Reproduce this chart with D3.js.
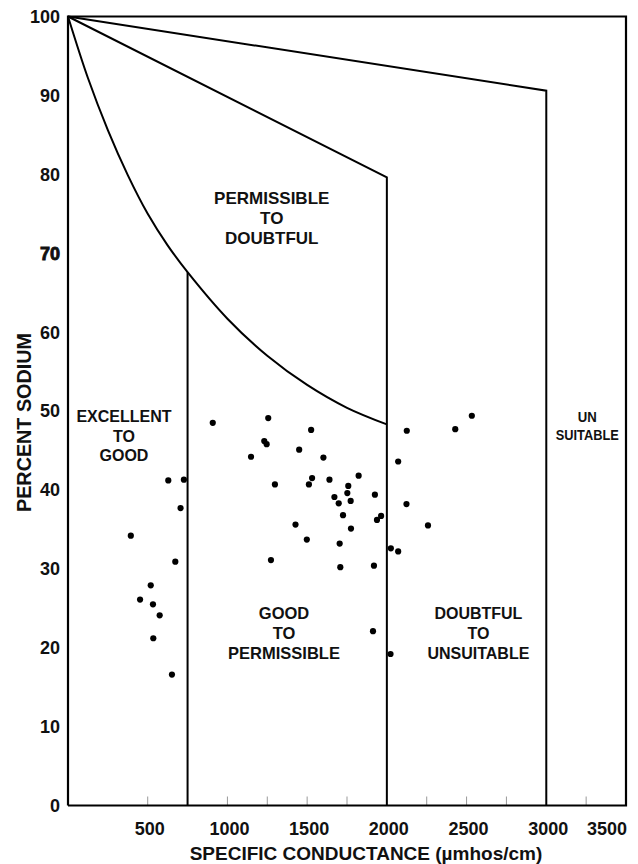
<!DOCTYPE html>
<html>
<head>
<meta charset="utf-8">
<script src="https://cdnjs.cloudflare.com/ajax/libs/d3/7.8.5/d3.min.js"></script>
<style>
  body { margin: 0; background: #fff; }
  text { font-family: 'Liberation Sans', Arial, sans-serif; font-weight: bold; fill: #111; }
</style>
</head>
<body>
<svg id="chart"></svg>
<script>
var width = 638;
var height = 864;
var margin = {top: 16.5, right: 12, bottom: 58.5, left: 68};

// sample points: specific conductance (umhos/cm) and percent sodium
var conductance = [394, 452, 519, 533, 535, 575, 629, 652, 673, 706, 727,
  908, 1148, 1231, 1246, 1256, 1273, 1298, 1427, 1450, 1498, 1511, 1525, 1531,
  1602, 1640, 1671, 1698, 1704, 1708, 1725, 1752, 1758, 1773, 1775, 1823,
  1913, 1919, 1925, 1938, 1964,
  2023, 2025, 2071, 2071, 2123, 2125, 2258, 2429, 2533];
var sodium = [34.2, 26.1, 27.9, 25.5, 21.2, 24.1, 41.2, 16.6, 30.9, 37.7, 41.3,
  48.5, 44.2, 46.2, 45.8, 49.1, 31.1, 40.7, 35.6, 45.1, 33.7, 40.7, 47.6, 41.5,
  44.1, 41.3, 39.1, 38.3, 33.2, 30.2, 36.8, 39.6, 40.5, 38.6, 35.1, 41.8,
  22.1, 30.4, 39.4, 36.2, 36.7,
  19.2, 32.6, 32.2, 43.6, 38.2, 47.5, 35.5, 47.7, 49.4];

// class boundaries
var curveX = [0, 125, 250, 375, 500, 625, 750, 1000, 1250, 1500, 1750, 2000];
var curveY = [100, 92.2, 85.6, 79.9, 75.0, 71.0, 67.6, 61.7, 57.0, 53.3, 50.4, 48.3];
var midX = [0, 2000, 2000];
var midY = [100, 79.6, 0];
var topX = [0, 3000, 3000];
var topY = [100, 90.6, 0];
var splitX = [750, 750];
var splitY = [67.6, 0];

var xTickValues = [500, 1000, 1500, 2000, 2500, 3000, 3500];
var xMinorTicks = [500, 1000, 1250, 1500, 1750, 2250, 2500, 2750, 3250];
var yTickValues = [0, 10, 20, 30, 40, 50, 60, 70, 80, 90, 100];

var zoneLabels = [
  {lines: ['PERMISSIBLE', 'TO', 'DOUBTFUL'], x: 1278, y: 77.0, size: 17, step: 20},
  {lines: ['EXCELLENT', 'TO', 'GOOD'], x: 351, y: 49.3, size: 16, step: 19.5},
  {lines: ['GOOD', 'TO', 'PERMISSIBLE'], x: 1355, y: 24.4, size: 16.5, step: 20},
  {lines: ['DOUBTFUL', 'TO', 'UNSUITABLE'], x: 2574, y: 24.4, size: 16, step: 20}
];

var svg = d3.select('#chart').attr('width', width).attr('height', height);

var x = d3.scaleLinear().domain([0, 3500]).range([margin.left, width - margin.right]);
var y = d3.scaleLinear().domain([0, 100]).range([height - margin.bottom, margin.top]);

var toPoints = function(xs, ys) {
  return xs.map(function(d, i) { return [d, ys[i]]; });
};
var line = d3.line()
  .x(function(d) { return x(d[0]); })
  .y(function(d) { return y(d[1]); });
var smooth = d3.line()
  .x(function(d) { return x(d[0]); })
  .y(function(d) { return y(d[1]); })
  .curve(d3.curveCatmullRom);

// minor ticks on bottom axis, pointing inward
svg.append('g').selectAll('line').data(xMinorTicks).enter()
  .append('line')
  .attr('x1', function(d) { return x(d); })
  .attr('x2', function(d) { return x(d); })
  .attr('y1', y(0))
  .attr('y2', y(0) - 9)
  .attr('stroke', '#999')
  .attr('stroke-width', 1);

// boundaries
var bounds = svg.append('g').attr('fill', 'none').attr('stroke', '#000').attr('stroke-width', 2);
bounds.append('path').attr('d', smooth(toPoints(curveX, curveY)));
bounds.append('path').attr('d', line(toPoints(midX, midY)));
bounds.append('path').attr('d', line(toPoints(topX, topY)));
bounds.append('path').attr('d', line(toPoints(splitX, splitY)));

// frame
svg.append('path')
  .attr('d', line([[0, 0], [0, 100], [3500, 100], [3500, 0], [0, 0]]))
  .attr('fill', 'none')
  .attr('stroke', '#000')
  .attr('stroke-width', 2.2);

// points
svg.append('g').selectAll('circle').data(conductance).enter()
  .append('circle')
  .attr('cx', function(d) { return x(d); })
  .attr('cy', function(d, i) { return y(sodium[i]); })
  .attr('r', 3.1)
  .attr('fill', '#000');

// y tick labels
svg.append('g').selectAll('text').data(yTickValues).enter()
  .append('text')
  .attr('x', 60)
  .attr('y', function(d) { return y(d); })
  .attr('dy', '0.36em')
  .attr('text-anchor', 'end')
  .style('font-size', '18px')
  .style('stroke', function(d) { return d === 70 ? '#111' : 'none'; })
  .style('stroke-width', 0.9)
  .text(function(d) { return d; });

// x tick labels
svg.append('g').selectAll('text').data(xTickValues).enter()
  .append('text')
  .attr('x', function(d) { return d === 3500 ? x(d) + 1 : x(d) + 2; })
  .attr('y', 835)
  .attr('text-anchor', function(d) { return d === 3500 ? 'end' : 'middle'; })
  .style('font-size', '18px')
  .text(function(d) { return d; });

// axis titles
svg.append('text')
  .attr('x', 366)
  .attr('y', 860)
  .attr('text-anchor', 'middle')
  .style('font-size', '19px')
  .text('SPECIFIC CONDUCTANCE (\u00b5mhos/cm)');

svg.append('text')
  .attr('transform', 'translate(31,' + 422.5 + ') rotate(-90)')
  .attr('text-anchor', 'middle')
  .attr('textLength', 179)
  .attr('lengthAdjust', 'spacingAndGlyphs')
  .style('font-size', '21px')
  .text('PERCENT SODIUM');

// zone labels
zoneLabels.forEach(function(z) {
  var g = svg.append('g');
  g.selectAll('text').data(z.lines).enter()
    .append('text')
    .attr('x', x(z.x))
    .attr('y', function(d, i) { return y(z.y) + i * z.step; })
    .attr('dy', '0.36em')
    .attr('text-anchor', 'middle')
    .style('font-size', z.size + 'px')
    .text(function(d) { return d; });
});

// narrow label in the last column
var unsuitable = svg.append('g');
unsuitable.append('text')
  .attr('x', x(3257))
  .attr('y', y(49.3))
  .attr('dy', '0.36em')
  .attr('text-anchor', 'middle')
  .attr('textLength', 19)
  .attr('lengthAdjust', 'spacingAndGlyphs')
  .style('font-size', '15px')
  .text('UN');
unsuitable.append('text')
  .attr('x', x(3257))
  .attr('y', y(49.3) + 18.5)
  .attr('dy', '0.36em')
  .attr('text-anchor', 'middle')
  .attr('textLength', 63)
  .attr('lengthAdjust', 'spacingAndGlyphs')
  .style('font-size', '15px')
  .text('SUITABLE');
</script>
</body>
</html>
